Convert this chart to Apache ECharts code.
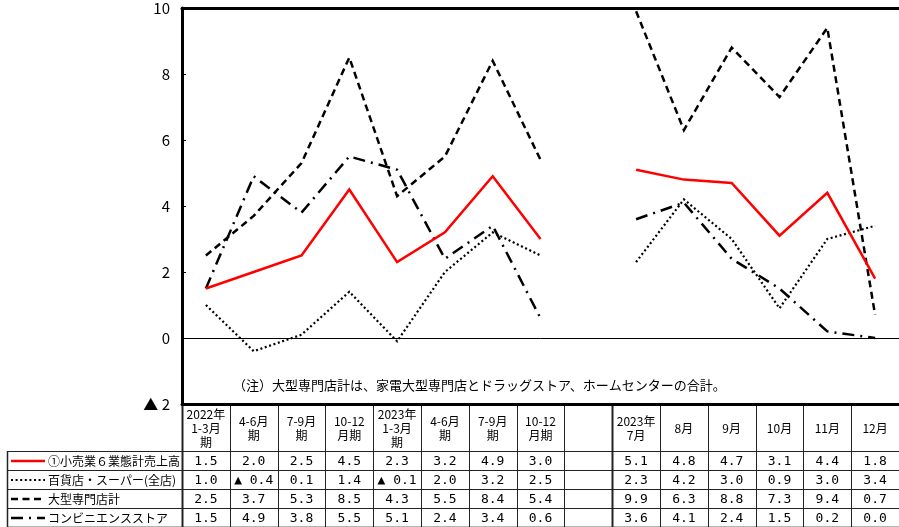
<!DOCTYPE html>
<html>
<head>
<meta charset="utf-8">
<script src="https://cdn.jsdelivr.net/npm/echarts@6/dist/echarts.min.js"></script>
<style>
  html, body { margin: 0; padding: 0; background: #fff; }
  #chart { width: 899px; height: 527px; }
</style>
</head>
<body>
<div id="chart"></div>
<script>
// Period labels (one slot per column; the blank slot separates quarters from months)
const categories = ['2022Q1', '2022Q2', '2022Q3', '2022Q4', '2023Q1', '2023Q2', '2023Q3', '2023Q4', '', '2023-07', '2023-08', '2023-09', '2023-10', '2023-11', '2023-12'];
const headerLabels = ['2022年\n1-3月\n期', '4-6月\n期', '7-9月\n期', '10-12\n月期', '2023年\n1-3月\n期', '4-6月\n期', '7-9月\n期', '10-12\n月期', '', '2023年\n7月', '8月', '9月', '10月', '11月', '12月'];

// Year-on-year change (%) for each store type
const retailTotal    = [1.5, 2.0, 2.5, 4.5, 2.3, 3.2, 4.9, 3.0, null, 5.1, 4.8, 4.7, 3.1, 4.4, 1.8];
const deptSuper      = [1.0, -0.4, 0.1, 1.4, -0.1, 2.0, 3.2, 2.5, null, 2.3, 4.2, 3.0, 0.9, 3.0, 3.4];
const largeSpecialty = [2.5, 3.7, 5.3, 8.5, 4.3, 5.5, 8.4, 5.4, null, 9.9, 6.3, 8.8, 7.3, 9.4, 0.7];
const convenience    = [1.5, 4.9, 3.8, 5.5, 5.1, 2.4, 3.4, 0.6, null, 3.6, 4.1, 2.4, 1.5, 0.2, 0.0];

const seriesNames = ['①小売業６業態計売上高', '百貨店・スーパー(全店)', '大型専門店計', 'コンビニエンスストア'];
const yTicks = { min: -2, max: 10, interval: 2 };
const noteText = '（注）大型専門店計は、家電大型専門店とドラッグストア、ホームセンターの合計。';

const FONT = '"Noto Sans CJK JP", "Noto Sans", sans-serif';
const NUMFONT = '"DejaVu Sans Mono", "Noto Sans CJK JP", monospace';
const styles = [
  { color: '#ff0000', width: 2.5, type: 'solid', cap: 'butt' },
  { color: '#000', width: 2.2, type: [2, 2.6], cap: 'butt' },
  { color: '#000', width: 2.5, type: [7, 4.5], cap: 'butt' },
  { color: '#000', width: 2.5, type: [12, 6, 2, 6], cap: 'butt' }
];
const seriesData = [retailTotal, deptSuper, largeSpecialty, convenience];

// ▲ marks negative numbers
function fmt(v) {
  if (v === null || v === undefined) return '';
  return v < 0 ? '▲ ' + Math.abs(v).toFixed(1) : v.toFixed(1);
}

const chart = echarts.init(document.getElementById('chart'), null, { renderer: 'canvas' });

const series = seriesData.map((d, i) => ({
  name: seriesNames[i],
  type: 'line',
  data: d,
  symbol: 'none',
  connectNulls: false,
  z: 10 - i,
  lineStyle: { color: styles[i].color, width: styles[i].width, type: styles[i].type, cap: styles[i].cap, join: 'miter' },
  animation: false
}));
// zero reference line
series[0].markLine = {
  silent: true,
  symbol: 'none',
  label: { show: false },
  lineStyle: { color: '#000', width: 1, type: 'solid' },
  data: [{ yAxis: 0 }],
  animation: false
};

chart.setOption({
  animation: false,
  grid: { left: 182, right: 0, top: 8, bottom: 123 },
  xAxis: [
    {
      type: 'category', data: categories, boundaryGap: true, position: 'bottom',
      axisLine: { show: true, onZero: false, lineStyle: { color: '#000', width: 3 } },
      axisTick: { show: false }, axisLabel: { show: false }, splitLine: { show: false }
    },
    {
      type: 'category', data: categories, boundaryGap: true, position: 'top',
      axisLine: { show: true, onZero: false, lineStyle: { color: '#000', width: 3 } },
      axisTick: { show: false }, axisLabel: { show: false }, splitLine: { show: false }
    }
  ],
  yAxis: {
    type: 'value', min: yTicks.min, max: yTicks.max, interval: yTicks.interval,
    axisLine: { show: true, onZero: false, lineStyle: { color: '#000', width: 3 } },
    axisTick: { show: true, inside: true, length: 4, lineStyle: { color: '#000', width: 1 } },
    axisLabel: {
      color: '#000', fontSize: 15, fontFamily: FONT, margin: 12,
      formatter: v => (v < 0 ? '▲ ' + Math.abs(v) : String(v))
    },
    splitLine: { show: false }
  },
  series: series
});

// Data table under the plot, aligned with the category columns
const g = [];
const x0 = chart.convertToPixel({ xAxisIndex: 0 }, 0);
const x1 = chart.convertToPixel({ xAxisIndex: 0 }, 1);
const half = (x1 - x0) / 2;
const tableLeft = 7;
const plotLeft = x0 - half;
const headTop = 404, headBottom = 451, rowH = 19;
const tableBottom = headBottom + rowH * seriesData.length;
const lineColor = '#222';

function hline(xa, xb, y, w, c) {
  g.push({ type: 'line', shape: { x1: xa, y1: y, x2: xb, y2: y }, style: { stroke: c || lineColor, lineWidth: w || 1 }, silent: true });
}
function vline(x, ya, yb, w, c) {
  g.push({ type: 'line', shape: { x1: x, y1: ya, x2: x, y2: yb }, style: { stroke: c || lineColor, lineWidth: w || 1 }, silent: true });
}

// row lines
for (let r = 0; r <= seriesData.length; r++) {
  const y = headBottom + r * rowH + 0.5;
  hline(tableLeft, 899, y, r === seriesData.length ? 2 : 1, r === seriesData.length ? '#666' : lineColor);
}
vline(tableLeft + 0.5, headBottom, tableBottom, 1.5);
// column lines
for (let k = 0; k <= categories.length; k++) {
  const x = Math.round(plotLeft + k * 2 * half) + 0.5;
  const w = (k === 0) ? 2 : (k === 9 ? 2 : 1);
  vline(x, headTop, tableBottom, w);
}

// header and value cells
categories.forEach((c, i) => {
  const cx = chart.convertToPixel({ xAxisIndex: 0 }, i);
  g.push({
    type: 'text', silent: true,
    style: { text: headerLabels[i], x: cx, y: (headTop + headBottom) / 2 + 1, align: 'center', verticalAlign: 'middle', font: '12px ' + FONT, fill: '#000', lineHeight: 14 }
  });
  seriesData.forEach((d, r) => {
    g.push({
      type: 'text', silent: true,
      style: { text: fmt(d[i]), x: cx, y: headBottom + r * rowH + rowH / 2 + 1, align: 'center', verticalAlign: 'middle', font: '13px ' + NUMFONT, fill: '#000' }
    });
  });
});

// legend column: line sample + series name
seriesNames.forEach((n, r) => {
  const yc = headBottom + r * rowH + rowH / 2 + 0.5;
  const s = styles[r];
  g.push({
    type: 'line', silent: true,
    shape: { x1: 11, y1: yc, x2: 45, y2: yc },
    style: { stroke: s.color, lineWidth: s.width, lineDash: s.type === 'solid' ? null : s.type, lineCap: s.cap }
  });
  g.push({
    type: 'text', silent: true,
    style: { text: n, x: 48, y: yc + 0.5, align: 'left', verticalAlign: 'middle', font: '12px ' + FONT, fill: '#000' }
  });
});

// note inside the plot
g.push({
  type: 'text', silent: true,
  style: { text: noteText, x: 233, y: 385, align: 'left', verticalAlign: 'middle', font: '13px ' + FONT, fill: '#000' }
});

chart.setOption({ graphic: g });
</script>
</body>
</html>
